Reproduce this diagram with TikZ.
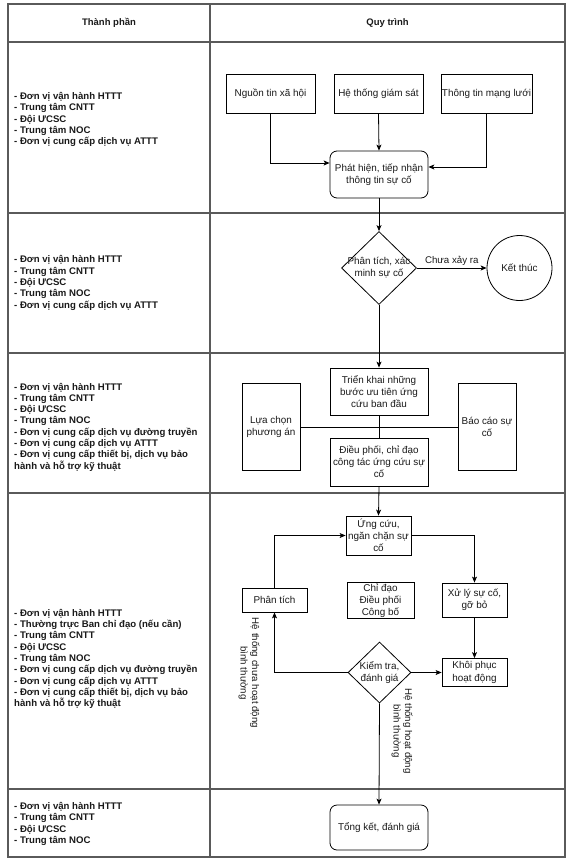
\documentclass[tikz,border=0pt]{standalone}
\usepackage{fontspec}
\setmainfont{Liberation Sans}
\usetikzlibrary{arrows.meta,shapes.geometric}
\definecolor{tabgray}{HTML}{5A5A5A}
\definecolor{txt}{HTML}{1A1A1A}
\begin{document}
\begin{tikzpicture}[x=1pt,y=-1pt,
  grid/.style={draw=tabgray, line width=1.1pt},
  lefttext/.style={anchor=west, align=left, text=txt, inner sep=0pt,
     font=\fontsize{9.6}{11.3}\selectfont\bfseries},
  headtext/.style={text=txt, inner sep=0pt, font=\fontsize{9.5}{11.3}\selectfont\bfseries},
  flow/.style={draw=black, line width=0.8pt, text=txt, align=center, inner sep=1pt,
     font=\fontsize{9.9}{12.2}\selectfont},
  rbox/.style={flow, rectangle},
  roundbox/.style={flow, rectangle, rounded corners=7pt},
  dshape/.style={flow, diamond, inner sep=0pt},
  dtext/.style={text=txt, align=center, inner sep=0pt, font=\fontsize{9.9}{12.2}\selectfont},
  lbl/.style={text=txt, align=center, inner sep=1pt, font=\fontsize{9.7}{11.5}\selectfont},
  arr/.style={draw=black, line width=0.8pt, -{Stealth[length=6pt,width=5pt,inset=1.5pt]}},
  plain/.style={draw=black, line width=0.8pt}
]
\useasboundingbox (0,0) rectangle (572,864);
\fill[white] (0,0) rectangle (572,864);

% table
\draw[grid] (8,4) rectangle (565,857);
\draw[grid] (210,4) -- (210,857);
\foreach \yy in {42,213,353,493,789} \draw[grid] (8,\yy) -- (565,\yy);

\node[headtext] (h1) at (109,23) {Thành phần};
\node[headtext] (h2) at (387.5,23) {Quy trình};

% left column
\node[lefttext] (t1) at (14,119.5) {- Đơn vị vận hành HTTT\\- Trung tâm CNTT\\- Đội ƯCSC\\- Trung tâm NOC\\- Đơn vị cung cấp dịch vụ ATTT};
\node[lefttext] (t2) at (14,283) {- Đơn vị vận hành HTTT\\- Trung tâm CNTT\\- Đội ƯCSC\\- Trung tâm NOC\\- Đơn vị cung cấp dịch vụ ATTT};
\node[lefttext] (t3) at (14,427) {- Đơn vị vận hành HTTT\\- Trung tâm CNTT\\- Đội ƯCSC\\- Trung tâm NOC\\- Đơn vị cung cấp dịch vụ đường truyền\\- Đơn vị cung cấp dịch vụ ATTT\\- Đơn vị cung cấp thiết bị, dịch vụ bảo\\hành và hỗ trợ kỹ thuật};
\node[lefttext] (t4) at (14,659) {- Đơn vị vận hành HTTT\\- Thường trực Ban chỉ đạo (nếu cần)\\- Trung tâm CNTT\\- Đội ƯCSC\\- Trung tâm NOC\\- Đơn vị cung cấp dịch vụ đường truyền\\- Đơn vị cung cấp dịch vụ ATTT\\- Đơn vị cung cấp thiết bị, dịch vụ bảo\\hành và hỗ trợ kỹ thuật};
\node[lefttext] (t5) at (14,824) {- Đơn vị vận hành HTTT\\- Trung tâm CNTT\\- Đội ƯCSC\\- Trung tâm NOC};

% row 1
\node[rbox, minimum width=89pt, minimum height=39pt] (n1) at (270.5,93.5) {Nguồn tin xã hội};
\node[rbox, minimum width=89pt, minimum height=39pt] (n2) at (378.5,93.5) {Hệ thống giám sát};
\node[rbox, minimum width=89pt, minimum height=39pt] (n3) at (486.5,93.5) {Thông tin mạng lưới};
\node[roundbox, minimum width=98pt, minimum height=47pt] (detect) at (379,174.5) {Phát hiện, tiếp nhận\\thông tin sự cố};

% row 2
\node[dshape, minimum width=75pt, minimum height=73pt] (verify) at (379,268) {};
\node[dtext] (verifyt) at (verify.center) {Phân tích, xác\\minh sự cố};
\node[flow, circle, minimum size=65pt, inner sep=0pt] (end) at (519.5,268) {Kết thúc};

% row 3
\node[rbox, minimum width=98pt, minimum height=47pt] (deploy) at (379,391.5) {Triển khai những\\bước ưu tiên ứng\\cứu ban đầu};
\node[rbox, minimum width=98pt, minimum height=48pt] (coord) at (379,462) {Điều phối, chỉ đạo\\công tác ứng cứu sự\\cố};
\node[rbox, minimum width=58pt, minimum height=87pt] (choose) at (271,427) {Lựa chọn\\phương án};
\node[rbox, minimum width=58pt, minimum height=87pt] (report) at (487,427) {Báo cáo sự\\cố};

% row 4
\node[rbox, minimum width=65pt, minimum height=39pt] (respond) at (378.5,535.5) {Ứng cứu,\\ngăn chặn sự\\cố};
\node[rbox, minimum width=65pt, minimum height=24pt] (analyze) at (274.5,600) {Phân tích};
\node[rbox, minimum width=67pt, minimum height=35pt] (direct) at (380.5,600.5) {Chỉ đạo\\Điều phối\\Công bố};
\node[rbox, minimum width=65pt, minimum height=34pt] (handle) at (474.5,600) {Xử lý sự cố,\\gỡ bỏ};
\node[dshape, minimum width=63pt, minimum height=61pt] (check) at (379.5,672.5) {};
\node[dtext] (checkt) at (check.center) {Kiểm tra,\\đánh giá};
\node[rbox, minimum width=65pt, minimum height=28pt] (restore) at (474.5,672.5) {Khôi phục\\hoạt động};
\node[lbl, rotate=-90] (lnot) at (249,673) {Hệ thống chưa hoạt động\\bình thường};
\node[lbl, rotate=-90] (lok) at (402,731) {Hệ thống hoạt động\\bình thường};

% row 5
\node[roundbox, minimum width=98pt, minimum height=45pt] (summary) at (379,827.5) {Tổng kết, đánh giá};

% connectors
\draw[arr] (n2.south) -- (detect.north);
\draw[arr] (n1.south) |- ([yshift=11.5pt]detect.west);
\draw[arr] (n3.south) |- ([yshift=7.5pt]detect.east);
\draw[arr] (detect.south) -- (verify.north);
\draw[arr] (verify.east) -- node[lbl, above=1pt] (lno) {Chưa xảy ra} (end.west);
\draw[arr] (verify.south) -- (deploy.north);
\draw[plain] (deploy.south) -- (coord.north);
\draw[plain] (choose.east) -- (report.west);
\draw[arr] (coord.south) -- (respond.north);
\draw[arr] (respond.east) -| (handle.north);
\draw[arr] (analyze.north) |- (respond.west);
\draw[arr] (handle.south) -- (restore.north);
\draw[arr] (check.east) -- (restore.west);
\draw[arr] (check.west) -| (analyze.south);
\draw[arr] (check.south) -- (summary.north);
\end{tikzpicture}
\end{document}
